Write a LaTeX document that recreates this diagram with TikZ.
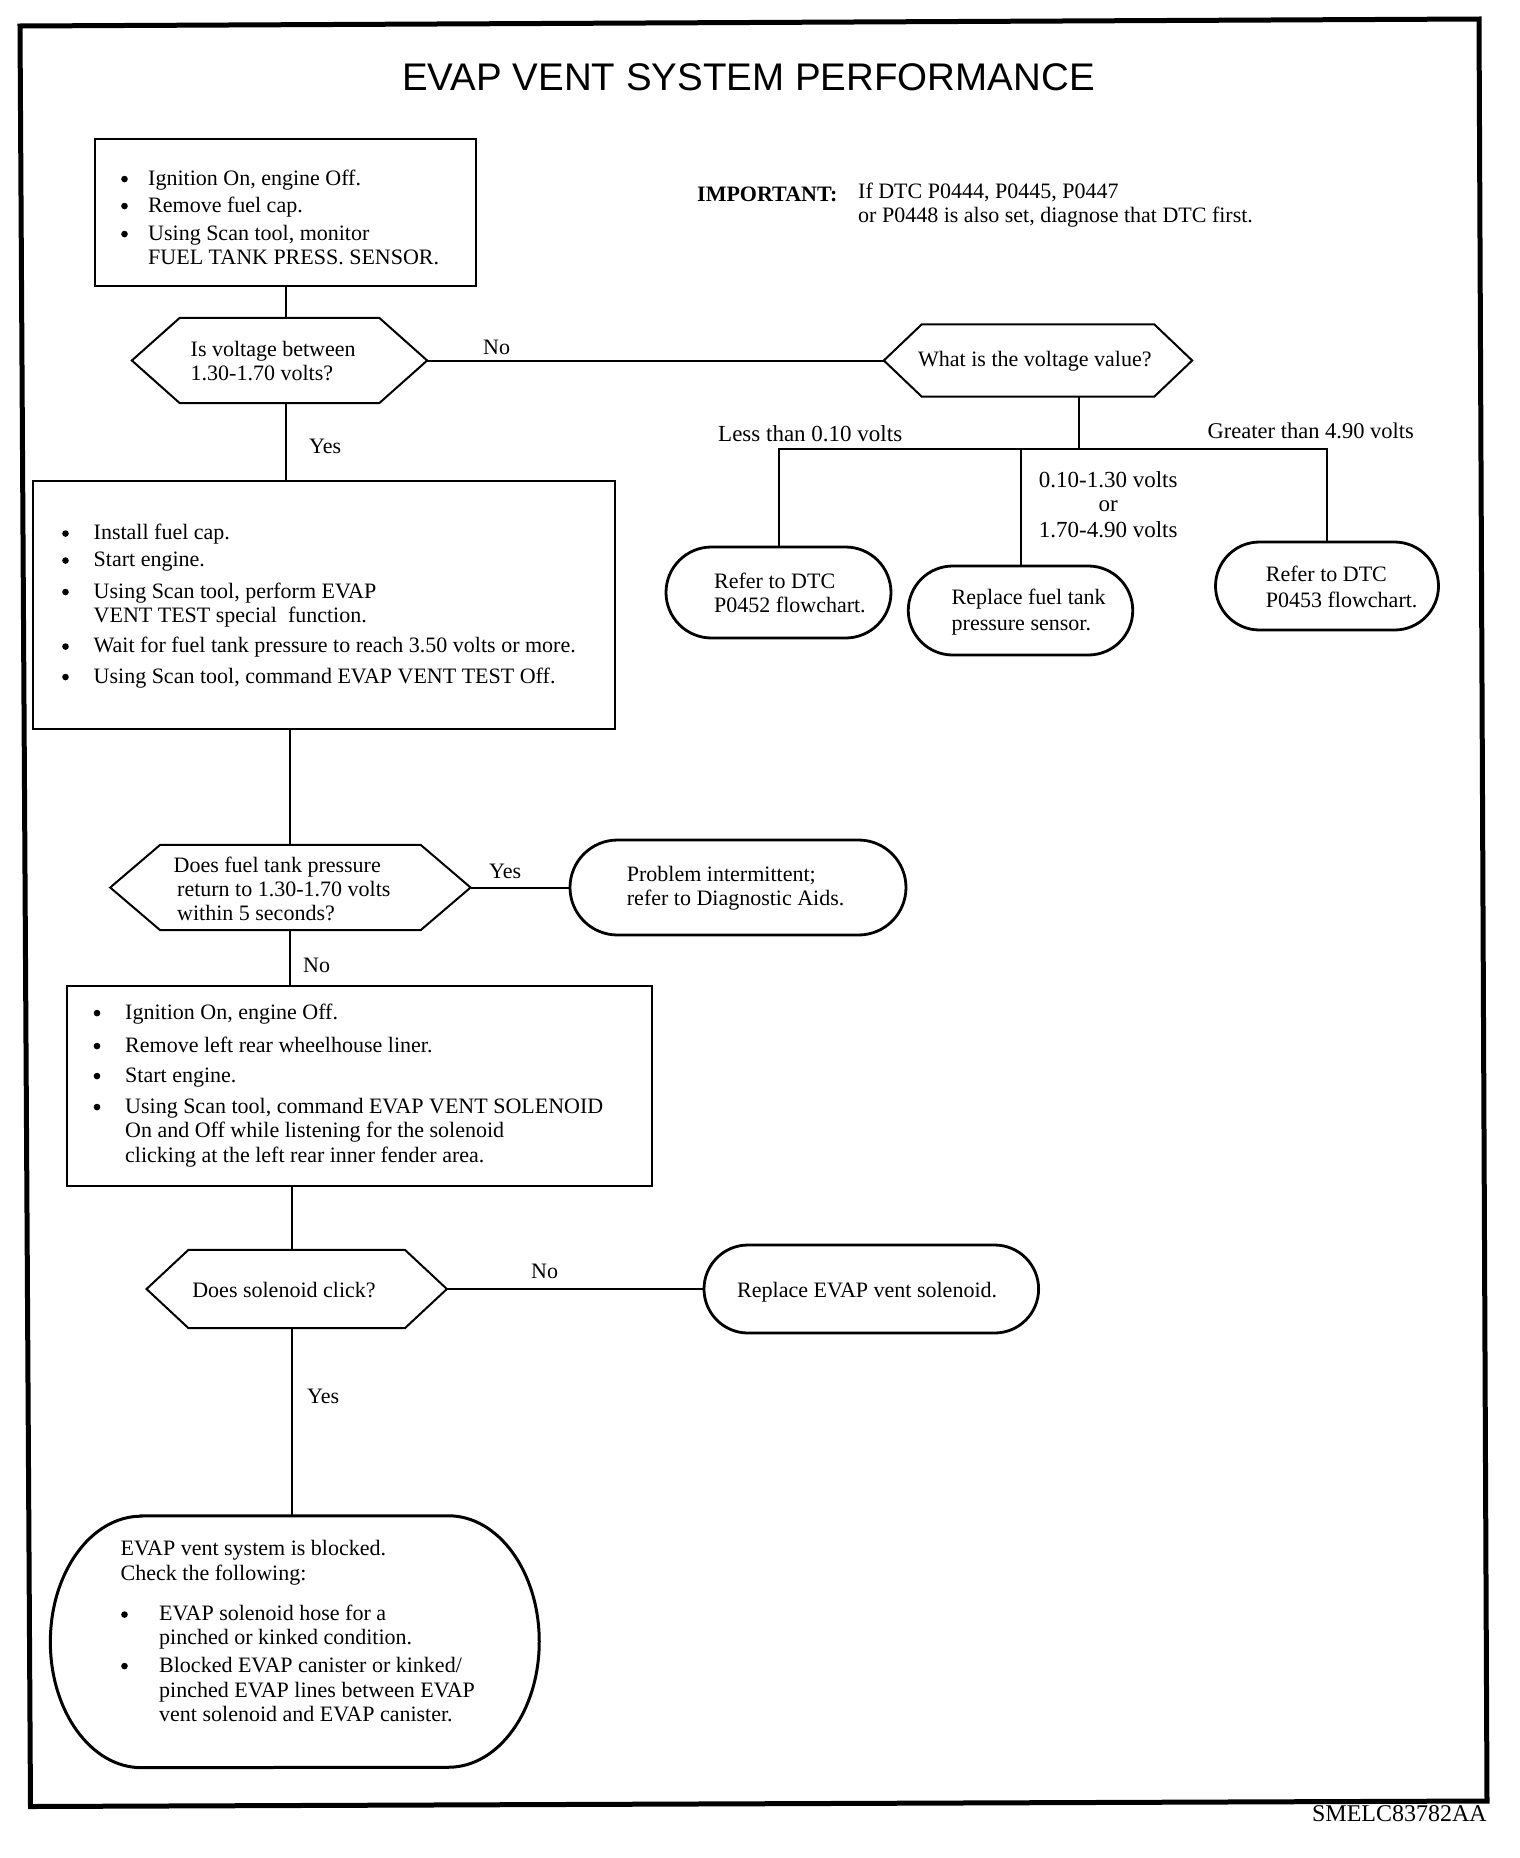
\documentclass[tikz,border=0pt]{standalone}
\usepackage{fontspec}
\setmainfont{Liberation Serif}
\newfontfamily\titlefont{Liberation Sans}
\usetikzlibrary{shapes.misc}
\newcommand{\fz}{\fontsize{22}{24}\selectfont}
\newcommand{\bdot}{\raisebox{0.27em}{\tikz[baseline=0pt]\fill (0pt,0pt) circle (3.3pt);}}
\newcommand{\bu}[1]{\makebox[#1][l]{\hspace*{0.5pt}\bdot}}
\newcommand{\ind}[1]{\hspace*{#1}}
\newcommand{\hexo}[2]{\draw[hexline] (#1.west) -- ([xshift=#2]#1.north west) -- ([xshift=-#2]#1.north east) -- (#1.east) -- ([xshift=-#2]#1.south east) -- ([xshift=#2]#1.south west) -- cycle;}
\begin{document}
\begin{tikzpicture}[x=1pt,y=-1pt,
  box/.style={draw, line width=2pt, rectangle, inner sep=0pt},
  hexnode/.style={inner sep=0pt, rectangle},
  hexline/.style={line width=2pt, line join=miter},
  stad/.style={draw, line width=2.8pt, rounded rectangle, inner sep=0pt},
  stadline/.style={line width=3pt},
  conn/.style={line width=2pt},
  txt/.style={anchor=base west, inner sep=0pt, font=\fz},
  frame/.style={line width=5pt, line join=miter}]
\useasboundingbox (0,0) rectangle (1520,1858);
\fill[white] (0,0) rectangle (1520,1858);
\draw[frame] (20,26) -- (1479,19) -- (1487,1801) -- (30.5,1806.5) -- cycle;

\node[anchor=base, inner sep=0pt, font=\titlefont\fontsize{38.5}{40}\selectfont] (title) at (748.5,90) {EVAP VENT SYSTEM PERFORMANCE};

% shapes
\node[box, minimum width=381.5pt, minimum height=147pt] (box1) at (285.5,212) {};
\node[hexnode, minimum width=295pt, minimum height=85pt] (hex1) at (279.5,360.5) {};
\node[hexnode, minimum width=308pt, minimum height=72pt] (hex2) at (1038,360.5) {};
\node[stad, minimum width=225pt, minimum height=91pt] (p452) at (778.5,592.5) {};
\node[stad, minimum width=224.5pt, minimum height=89pt] (rfts) at (1020.5,610.5) {};
\node[stad, minimum width=223pt, minimum height=88pt] (p453) at (1327,586) {};
\node[box, minimum width=582pt, minimum height=248pt] (box2) at (324,604.5) {};
\node[hexnode, minimum width=360pt, minimum height=85pt] (hex3) at (290.4,887.5) {};
\node[stad, minimum width=336pt, minimum height=95pt] (pint) at (738,887.5) {};
\node[box, minimum width=585pt, minimum height=200pt] (box3) at (359,1086) {};
\node[hexnode, minimum width=300pt, minimum height=78pt] (hex4) at (296.7,1289) {};
\node[stad, minimum width=334.6pt, minimum height=88pt] (rvs) at (871.3,1289) {};
\node[hexnode, minimum width=488.5pt, minimum height=251.5pt] (fin) at (294.8,1641.7) {};

\hexo{hex1}{48}
\hexo{hex2}{38}
\hexo{hex3}{50}
\hexo{hex4}{42}
\draw[stadline] ([xshift=91pt]fin.north west) -- ([xshift=-91pt]fin.north east)
  arc[start angle=90, end angle=-90, x radius=91pt, y radius=125.75pt]
  -- ([xshift=91pt]fin.south west)
  arc[start angle=270, end angle=90, x radius=91pt, y radius=125.75pt] -- cycle;

% connectors
\coordinate (bar) at (1079,449);
\coordinate (sp) at (291.5,0);
\draw[conn] (box1.south) -- (box1.south |- hex1.north);
\draw[conn] (box1.south |- hex1.south) -- (box1.south |- box2.north);
\draw[conn] (hex1.east) -- (hex2.west);
\draw[conn] (hex2.south -| bar) -- (bar);
\draw[conn] (p452.north) -- (p452.north |- bar) -- (p453.north |- bar) -- (p453.north);
\draw[conn] (rfts.north) -- (rfts.north |- bar);
\draw[conn] (hex3.north |- box2.south) -- (hex3.north);
\draw[conn] (hex3.east) -- (pint.west);
\draw[conn] (hex3.south) -- (hex3.south |- box3.north);
\draw[conn] (sp |- box3.south) -- (sp |- hex4.north);
\draw[conn] (hex4.east) -- (rvs.west);
\draw[conn] (sp |- hex4.south) -- (sp |- fin.north);

% texts
\node[txt] (t1) at (120.5,185) {\parbox[t]{400pt}{%
\bu{27.5pt}Ignition On, engine Off.\\[3pt]
\bu{27.5pt}Remove fuel cap.\\[4pt]
\bu{27.5pt}Using Scan tool, monitor\\
\ind{27.5pt}FUEL TANK PRESS. SENSOR.}};

\node[txt] (imp) at (697,201) {\textbf{IMPORTANT:}};
\node[txt] (impt) at (858,198) {\parbox[t]{500pt}{If DTC P0444, P0445, P0447\\
or P0448 is also set, diagnose that DTC first.}};

\node[txt] (t2) at (190.5,356) {\parbox[t]{250pt}{Is voltage between\\1.30-1.70 volts?}};
\node[txt] (lno1) at (483,354) {No};
\node[txt] (t3) at (918,366) {What is the voltage value?};
\node[txt] (lyes1) at (309,453) {Yes};
\node[txt, font=\fontsize{23}{25}\selectfont] (lless) at (718,441) {Less than 0.10 volts};
\node[txt, font=\fontsize{22.5}{25}\selectfont] (lgreat) at (1207.5,438) {Greater than 4.90 volts};
\node[txt, font=\fontsize{23}{25}\selectfont] (lmid) at (1028,487.5) {\parbox[t]{160pt}{\centering 0.10-1.30 volts\\[-1.5pt]or\\[1pt]1.70-4.90 volts}};

\node[txt] (t4) at (714,588) {\parbox[t]{200pt}{Refer to DTC\\P0452 flowchart.}};
\node[txt] (t5) at (951.5,604) {\parbox[t]{200pt}{Replace fuel tank\\[2pt]pressure sensor.}};
\node[txt] (t6) at (1265.7,581) {\parbox[t]{200pt}{Refer to DTC\\[2pt]P0453 flowchart.}};

\node[txt] (t7) at (61.5,539.5) {\parbox[t]{560pt}{%
\bu{32pt}Install fuel cap.\\[3pt]
\bu{32pt}Start engine.\\[7.5pt]
\bu{32pt}Using Scan tool, perform EVAP\\[0.5pt]
\ind{32pt}VENT TEST special\ \ function.\\[6pt]
\bu{32pt}Wait for fuel tank pressure to reach 3.50 volts or more.\\[6.5pt]
\bu{32pt}Using Scan tool, command EVAP VENT TEST Off.}};

\node[txt] (t8) at (173.5,872) {\parbox[t]{300pt}{Does fuel tank pressure\\
\ind{3.5pt}return to 1.30-1.70 volts\\
\ind{3.5pt}within 5 seconds?}};
\node[txt] (lyes2) at (489,878) {Yes};
\node[txt] (t9) at (626.7,881.5) {\parbox[t]{300pt}{Problem intermittent;\\refer to Diagnostic Aids.}};
\node[txt] (lno2) at (303,972) {No};

\node[txt] (t10) at (93,1019) {\parbox[t]{560pt}{%
\bu{32pt}Ignition On, engine Off.\\[9pt]
\bu{32pt}Remove left rear wheelhouse liner.\\[6pt]
\bu{32pt}Start engine.\\[7pt]
\bu{32pt}Using Scan tool, command EVAP VENT SOLENOID\\
\ind{32pt}On and Off while listening for the solenoid\\[1pt]
\ind{32pt}clicking at the left rear inner fender area.}};

\node[anchor=base, inner sep=0pt, font=\fz] (t11) at (284,1297) {Does solenoid click?};
\node[txt] (lno3) at (531,1278) {No};
\node[txt] (t12) at (737,1297.5) {Replace EVAP vent solenoid.};
\node[txt] (lyes3) at (307,1403) {Yes};

\node[txt] (t13) at (120.5,1555) {\parbox[t]{420pt}{%
EVAP vent system is blocked.\\[1.5pt]
Check the following:\\[16pt]
\bu{38.5pt}EVAP solenoid hose for a\\
\ind{38.5pt}pinched or kinked condition.\\[3.5pt]
\bu{38.5pt}Blocked EVAP canister or kinked/\\[1pt]
\ind{38.5pt}pinched EVAP lines between EVAP\\
\ind{38.5pt}vent solenoid and EVAP canister.}};

\node[anchor=base east, inner sep=0pt, font=\fontsize{24}{26}\selectfont] (code) at (1487,1821) {SMELC83782AA};
\end{tikzpicture}
\end{document}
